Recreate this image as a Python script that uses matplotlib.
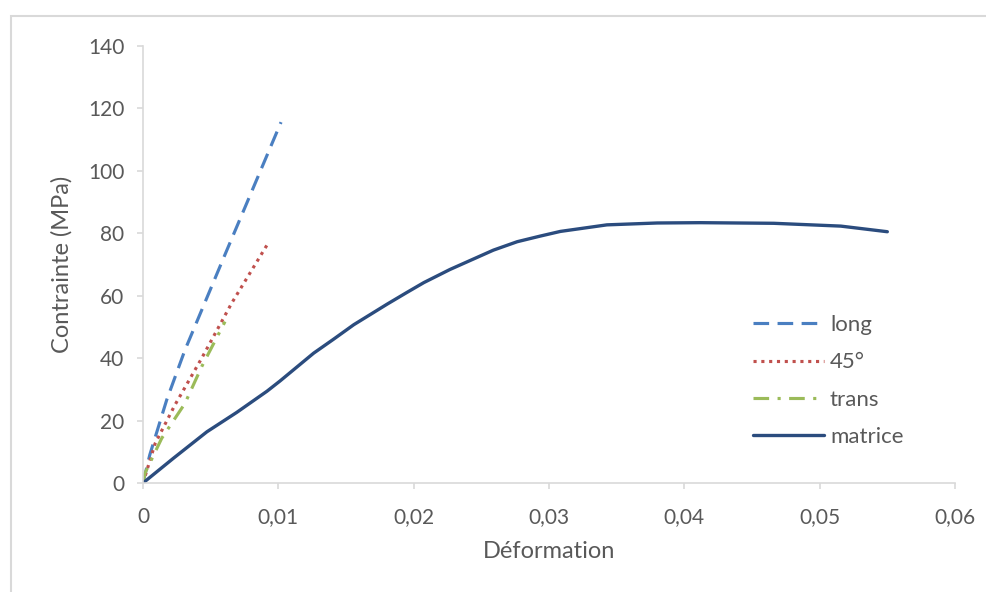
import matplotlib.pyplot as plt
from matplotlib.patches import Rectangle
from matplotlib.ticker import FuncFormatter

plt.rcParams['font.family'] = ['Lato', 'DejaVu Sans']

# --- data ---
long_x = [0, 0.0005, 0.00175, 0.0031, 0.0061, 0.0102]
long_y = [0, 9, 26.6, 42.6, 73.6, 115.6]

deg45_x = [0, 0.0009, 0.00236, 0.00434, 0.00655, 0.0092]
deg45_y = [0, 12.7, 25, 40, 57.6, 76.5]

trans_x = [0, 0.00015, 0.00138, 0.0031, 0.00434, 0.00606]
trans_y = [0, 3.2, 14.3, 25.5, 37.3, 51.7]

matrice_x = [0, 0.00224, 0.00472, 0.00692, 0.00916, 0.01013, 0.01261, 0.01406,
             0.01557, 0.01804, 0.01948, 0.02075, 0.02268, 0.02444, 0.02589,
             0.02765, 0.02935, 0.03084, 0.03428, 0.03800, 0.04118, 0.04661,
             0.05156, 0.055]
matrice_y = [0, 7.9, 16.4, 22.6, 29.4, 32.7, 41.6, 46,
             50.7, 57.3, 61.0, 64.2, 68.4, 71.8, 74.6,
             77.3, 79.1, 80.6, 82.7, 83.3, 83.4, 83.2,
             82.3, 80.5]

xticks = [0, 0.01, 0.02, 0.03, 0.04, 0.05, 0.06]
yticks = [0, 20, 40, 60, 80, 100, 120, 140]

fig = plt.figure(figsize=(9.87, 5.92), dpi=100)
ax = fig.add_axes([143 / 987, 1 - 483 / 592, (955 - 143) / 987, (483 - 46) / 592])

ax.plot(long_x, long_y, color="#4a7fc1", lw=2.25, linestyle=(0, (5, 2.7)), label="long")
ax.plot(deg45_x, deg45_y, color="#c0504d", lw=2.25, linestyle=(0, (1, 1.5)), label="45°")
ax.plot(trans_x, trans_y, color="#9bbb59", lw=2.25, linestyle=(0, (5, 2.7, 1, 2.7)), label="trans")
ax.plot(matrice_x, matrice_y, color="#2b4c7e", lw=2.4, solid_capstyle="round",
        solid_joinstyle="round", label="matrice")

ax.set_xlim(0, 0.06)
ax.set_ylim(0, 140)
ax.set_xticks(xticks)
ax.set_yticks(yticks)
ax.xaxis.set_major_formatter(FuncFormatter(lambda v, p: "0" if v == 0 else f"{v:.2f}".replace(".", ",")))

for s in ["top", "right"]:
    ax.spines[s].set_visible(False)
for s in ["left", "bottom"]:
    ax.spines[s].set_color("#d9d9d9")
    ax.spines[s].set_linewidth(1.2)

ax.tick_params(axis="both", colors="#d9d9d9", labelcolor="#595959", labelsize=15,
               length=4.5, width=1.2, direction="out")
ax.tick_params(axis="y", pad=9)
ax.tick_params(axis="x", pad=13)

ax.set_xlabel("Déformation", fontsize=17, color="#595959", labelpad=10)
ax.set_ylabel("Contrainte (MPa)", fontsize=17, color="#595959", labelpad=11)

leg = ax.legend(loc="upper left", bbox_to_anchor=(0.727, 0.43), frameon=False,
                fontsize=16, handlelength=3.2, handletextpad=0.25, labelspacing=0.78)
for t in leg.get_texts():
    t.set_color("#595959")

# light grey frame around the chart area
fig.patches.append(Rectangle((11 / 987, -0.1), 1.0, 1 - 16 / 592 + 0.1,
                             transform=fig.transFigure, fill=False,
                             edgecolor="#d9d9d9", lw=1.5))

fig.savefig("out.png", dpi=100)
